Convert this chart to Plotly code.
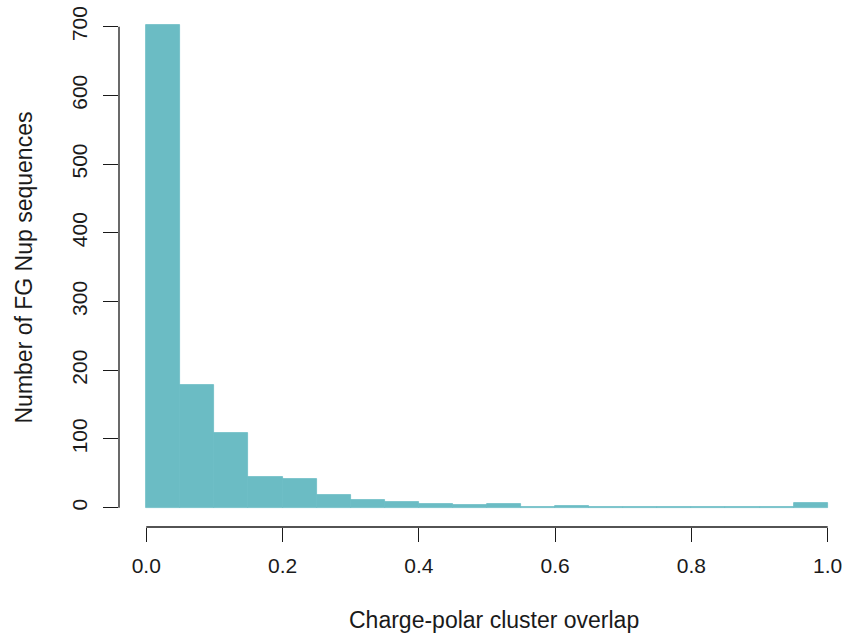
import plotly.graph_objects as go

bin_starts = [0.00, 0.05, 0.10, 0.15, 0.20, 0.25, 0.30, 0.35, 0.40, 0.45,
              0.50, 0.55, 0.60, 0.65, 0.70, 0.75, 0.80, 0.85, 0.90, 0.95]
counts = [702, 179, 108, 44, 42, 19, 11, 9, 5, 4,
          5, 1, 2, 1, 1, 1, 1, 1, 1, 7]
bin_width = 0.05
x_ticks = [0.0, 0.2, 0.4, 0.6, 0.8, 1.0]
x_tick_labels = ["0.0", "0.2", "0.4", "0.6", "0.8", "1.0"]
y_ticks = [0, 100, 200, 300, 400, 500, 600, 700]
x_title = "Charge-polar cluster overlap"
y_title = "Number of FG Nup sequences"

color = "#6BBCC4"
font = "Liberation Sans, Arial, Helvetica, sans-serif"
fs_tick = 21
fs_title = 23
txt = "#1a1a1a"

fig = go.Figure()
fig.add_trace(go.Bar(
    x=[s + bin_width / 2 for s in bin_starts],
    y=counts,
    width=bin_width,
    marker=dict(color=color, line=dict(width=0.8, color=color)),
    hoverinfo="x+y",
))

fig.update_layout(
    width=845, height=634,
    margin=dict(l=119, r=0, t=6, b=107, autoexpand=False),
    paper_bgcolor="white", plot_bgcolor="white",
    showlegend=False, bargap=0,
    font=dict(family=font, size=fs_tick, color=txt),
    xaxis=dict(
        range=[-0.04, 1.0254], showgrid=False, zeroline=False, showline=False,
        tickmode="array", tickvals=x_ticks, ticktext=x_tick_labels,
        ticks="outside", ticklen=14, tickwidth=1.3, tickcolor=txt,
        ticklabelstandoff=6, ticklabeloverflow="allow",
        tickfont=dict(family=font, size=fs_tick, color=txt),
    ),
    yaxis=dict(
        range=[-28.08, 730.08], showgrid=False, zeroline=False, showline=False,
        tickmode="array", tickvals=y_ticks,
        ticks="outside", ticklen=15, tickwidth=1.3, tickcolor=txt,
        tickangle=-90, ticklabelstandoff=8, ticklabeloverflow="allow",
        tickfont=dict(family=font, size=fs_tick, color=txt),
    ),
    shapes=[
        dict(type="line", xref="paper", yref="y", x0=0, x1=0,
             y0=y_ticks[0], y1=y_ticks[-1], line=dict(color=txt, width=1.3)),
        dict(type="line", xref="x", yref="paper", x0=x_ticks[0], x1=x_ticks[-1],
             y0=0, y1=0, line=dict(color=txt, width=1.3)),
    ],
    annotations=[
        dict(text=x_title, xref="paper", yref="paper", x=0.5165, y=-0.179,
             showarrow=False, xanchor="center", yanchor="middle",
             font=dict(family=font, size=fs_title, color=txt)),
        dict(text=y_title, xref="paper", yref="paper", x=-0.1309, y=0.498,
             textangle=-90, showarrow=False, xanchor="center", yanchor="middle",
             font=dict(family=font, size=fs_title, color=txt)),
    ],
)

fig.write_html(
    "out.html",
    config={"displayModeBar": False},
    post_script="document.body.style.margin='0';document.body.style.overflow='hidden';",
)
